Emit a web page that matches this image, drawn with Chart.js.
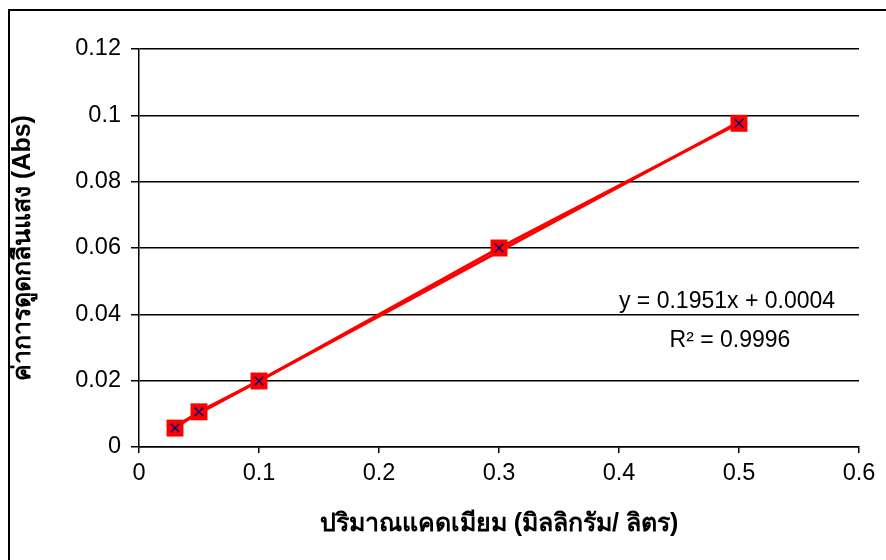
<!DOCTYPE html>
<html>
<head>
<meta charset="utf-8">
<script src="https://cdn.jsdelivr.net/npm/chart.js@4.4.1/dist/chart.umd.min.js"></script>
<style>
  html, body { margin: 0; padding: 0; background: #fff; }
  #wrap { width: 886px; height: 560px; }
</style>
</head>
<body>
<div id="wrap"><canvas id="calib"></canvas></div>
<script>
// calibration data
const concentration = [0.03, 0.05, 0.1, 0.3, 0.5]
const absorbance = [0.0057, 0.0106, 0.0199, 0.0600, 0.0976]
const trendX = [0.03, 0.5]
const trendY = [0.0063, 0.0980]
const equationLines = ['y = 0.1951x + 0.0004', 'R² = 0.9996']
const xTitle = 'ปริมาณแคดเมียม (มิลลิกรัม/ ลิตร)'
const yTitle = 'ค่าการดูดกลืนแสง (Abs)'

const thaiFont = "'Liberation Sans', Arial, 'Noto Sans', 'DejaVu Sans', sans-serif"

function toPoints(xs, ys) {
    return xs.map((x, i) => ({ x: x, y: ys[i] }))
}

// frame round the whole chart + trendline label
const extras = {
    id: 'extras',
    afterDraw(chart) {
        const ctx = chart.ctx
        ctx.save()
        ctx.strokeStyle = '#000'
        ctx.lineWidth = 2
        ctx.strokeRect(9, 10, 900, 600)
        ctx.fillStyle = '#000'
        ctx.font = '23px ' + thaiFont
        ctx.textAlign = 'center'
        ctx.textBaseline = 'alphabetic'
        ctx.fillText(equationLines[0], 727, 308)
        ctx.fillText(equationLines[1], 730, 347)
        ctx.restore()
    }
}

new Chart(document.getElementById('calib'), {
    type: 'scatter',
    data: {
        datasets: [{
            label: 'cross',
            data: toPoints(concentration, absorbance),
            pointStyle: 'crossRot',
            pointRadius: 6,
            borderColor: '#000080',
            borderWidth: 1.5,
            showLine: false
        }, {
            label: 'data',
            data: toPoints(concentration, absorbance),
            showLine: true,
            borderColor: '#ff0000',
            backgroundColor: '#ff0000',
            borderWidth: 3,
            pointStyle: 'rect',
            pointRadius: 12,
            pointBorderWidth: 0,
            tension: 0
        }, {
            label: 'trend',
            data: toPoints(trendX, trendY),
            showLine: true,
            borderColor: '#ff0000',
            borderWidth: 3,
            pointRadius: 0
        }]
    },
    options: {
        responsive: true,
        maintainAspectRatio: false,
        animation: false,
        events: [],
        layout: { padding: { top: 49, right: 27, left: 0, bottom: 0 } },
        plugins: {
            legend: { display: false },
            tooltip: { enabled: false }
        },
        scales: {
            x: {
                type: 'linear',
                min: 0,
                max: 0.6,
                ticks: {
                    stepSize: 0.1,
                    color: '#000',
                    font: { size: 23.5, family: thaiFont },
                    padding: 6,
                    maxRotation: 0,
                    callback: v => String(Number(v.toFixed(2)))
                },
                grid: {
                    drawOnChartArea: false,
                    drawTicks: true,
                    tickLength: 6,
                    color: '#000',
                    lineWidth: 1.5
                },
                border: { color: '#000', width: 1.5 },
                title: {
                    display: true,
                    text: xTitle,
                    color: '#000',
                    font: { size: 25, weight: 'bold', family: thaiFont },
                    padding: { top: 0, bottom: 21 }
                },
                afterFit(scale) { scale.height = 113 }
            },
            y: {
                min: 0,
                max: 0.12,
                ticks: {
                    stepSize: 0.02,
                    color: '#000',
                    font: { size: 23.5, family: thaiFont },
                    padding: 10,
                    callback: v => String(Number(v.toFixed(2)))
                },
                grid: {
                    color: '#000',
                    lineWidth: 1.5,
                    tickLength: 8
                },
                border: { color: '#000', width: 1.5 },
                title: {
                    display: true,
                    text: yTitle,
                    color: '#000',
                    font: { size: 25, weight: 'bold', family: thaiFont },
                    padding: { top: 8, bottom: 0 }
                },
                afterFit(scale) { scale.width = 139 }
            }
        }
    },
    plugins: [extras]
})
</script>
</body>
</html>
